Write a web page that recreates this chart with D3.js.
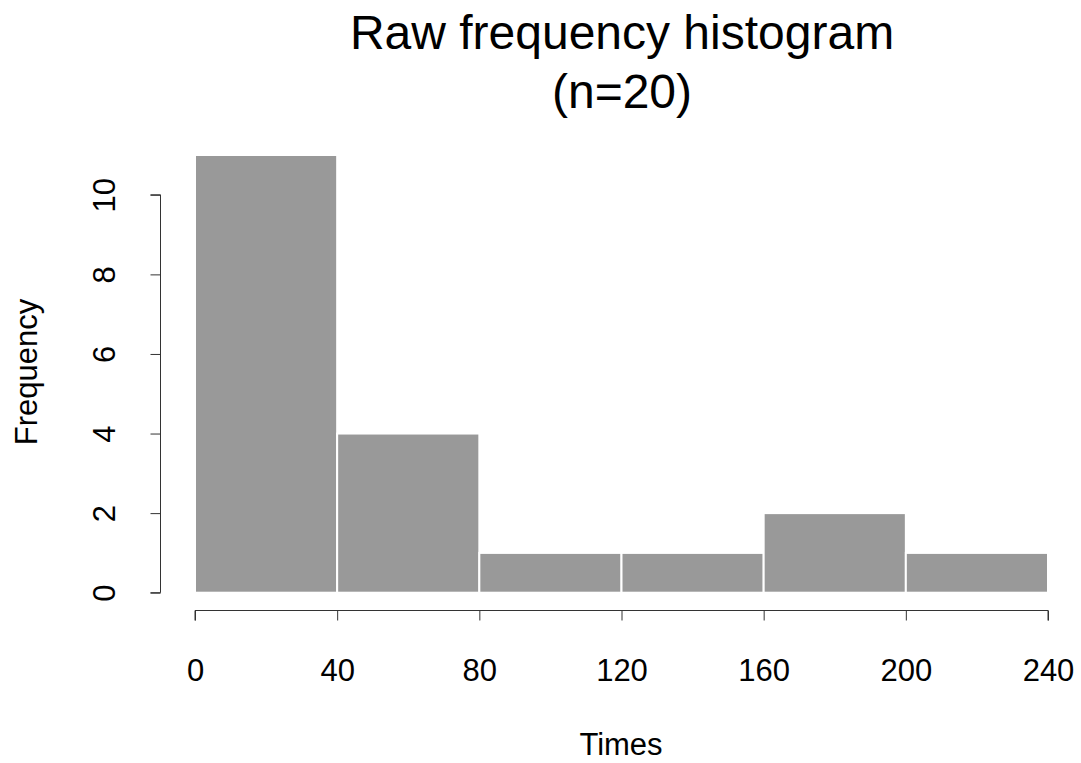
<!DOCTYPE html>
<html>
<head>
<meta charset="utf-8">
<script src="https://cdn.jsdelivr.net/npm/d3@7"></script>
<style>
html,body{margin:0;padding:0;background:#fff;}
svg{display:block;font-family:"Liberation Sans",Arial,Helvetica,sans-serif;}
</style>
</head>
<body>
<svg id="chart" width="1081" height="763"></svg>
<script>
const binStarts = [0, 40, 80, 120, 160, 200];
const binEnds = [40, 80, 120, 160, 200, 240];
const counts = [11, 4, 1, 1, 2, 1];
const xTicks = [0, 40, 80, 120, 160, 200, 240];
const yTicks = [0, 2, 4, 6, 8, 10];
const titleLines = ["Raw frequency histogram", "(n=20)"];
const xLabel = "Times";
const yLabel = "Frequency";

const svg = d3.select("#chart");
const x = d3.scaleLinear().domain([0, 240]).range([195, 1048]);
const y = d3.scaleLinear().domain([0, 10]).range([592.7, 194.8]);

const bins = binStarts.map((s, i) => ({x0: s, x1: binEnds[i], n: counts[i]}));

svg.append("g").selectAll("rect").data(bins).join("rect")
  .attr("x", d => x(d.x0))
  .attr("y", d => y(d.n))
  .attr("width", d => x(d.x1) - x(d.x0))
  .attr("height", d => y(0) - y(d.n))
  .attr("fill", "#999999")
  .attr("stroke", "#ffffff")
  .attr("stroke-width", 2);

// x axis
const xAxis = d3.axisBottom(x).tickValues(xTicks).tickSize(10).tickSizeOuter(0).tickPadding(0);
const gx = svg.append("g").attr("transform", "translate(0,610.5)").call(xAxis);
gx.select(".domain").attr("stroke", "#333").attr("d", `M${x(0)},10V0H${x(240)}V10`);
gx.selectAll(".tick line").attr("stroke", "#333");
gx.selectAll(".tick text").attr("font-size", 31).attr("fill", "#000")
  .attr("dy", null).attr("y", 70.8);

// y axis
const yAxis = d3.axisLeft(y).tickValues(yTicks).tickSize(10).tickSizeOuter(0).tickPadding(0);
const gy = svg.append("g").attr("transform", "translate(160.5,0)").call(yAxis);
gy.select(".domain").attr("stroke", "#333").attr("d", `M-10,${y(0)}H0V${y(10)}H-10`);
gy.selectAll(".tick line").attr("stroke", "#333");
gy.selectAll(".tick text").attr("font-size", 31).attr("fill", "#000")
  .attr("x", null).attr("dy", null)
  .attr("text-anchor", "middle")
  .attr("transform", "translate(-45.5,0) rotate(-90)");

// title
svg.append("g").selectAll("text").data(titleLines).join("text")
  .attr("x", 622).attr("y", (d, i) => 49.3 + i * 58.4)
  .attr("text-anchor", "middle").attr("font-size", 48).attr("fill", "#000")
  .text(d => d);

// axis labels
svg.append("text").attr("x", 621).attr("y", 755)
  .attr("text-anchor", "middle").attr("font-size", 31).attr("fill", "#000").text(xLabel);
svg.append("text").attr("transform", "translate(37,372) rotate(-90)")
  .attr("text-anchor", "middle").attr("font-size", 31).attr("fill", "#000").text(yLabel);
</script>
</body>
</html>
